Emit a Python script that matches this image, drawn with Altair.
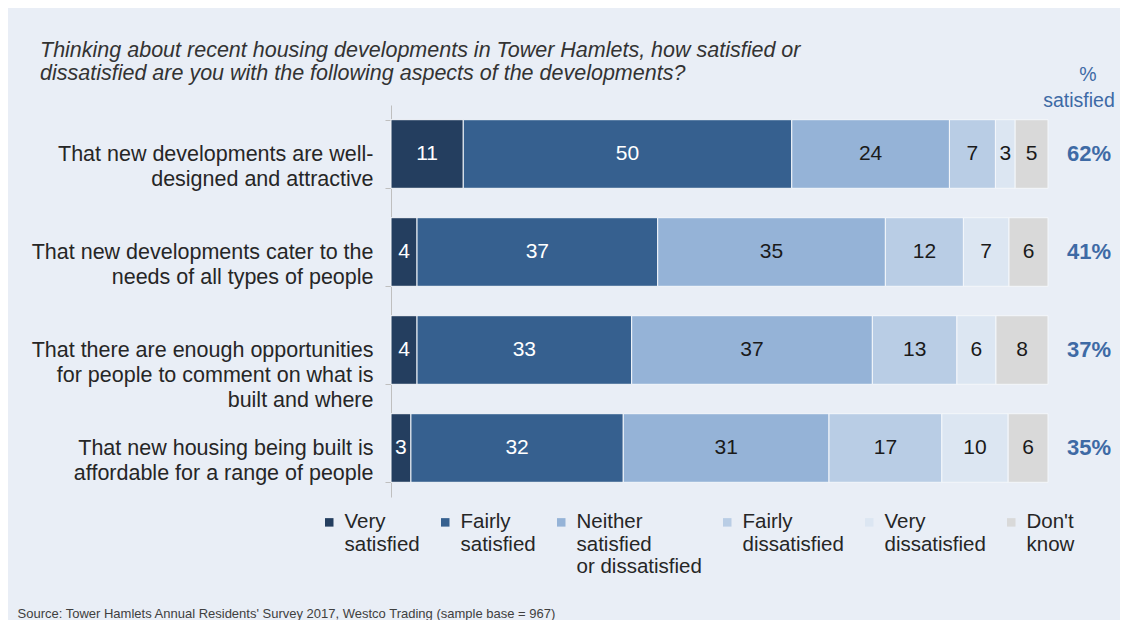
import altair as alt
import pandas as pd

questions = [
    "That new developments are well-|designed and attractive",
    "That new developments cater to the|needs of all types of people",
    "That there are enough opportunities|for people to comment on what is|built and where",
    "That new housing being built is|affordable for a range of people",
]
responses = [
    "Very|satisfied",
    "Fairly|satisfied",
    "Neither|satisfied|or dissatisfied",
    "Fairly|dissatisfied",
    "Very|dissatisfied",
    "Don't|\u00a0know",
]
colors = ["#243e5f", "#36608f", "#95b3d7", "#b9cde5", "#dce6f2", "#d9d9d9"]

very_satisfied = [11, 4, 4, 3]
fairly_satisfied = [50, 37, 33, 32]
neither = [24, 35, 37, 31]
fairly_dissatisfied = [7, 12, 13, 17]
very_dissatisfied = [3, 7, 6, 10]
dont_know = [5, 6, 8, 6]
pct_satisfied = [62, 41, 37, 35]

series = [very_satisfied, fairly_satisfied, neither, fairly_dissatisfied,
          very_dissatisfied, dont_know]

rows = []
for qi, q in enumerate(questions):
    for ri, r in enumerate(responses):
        rows.append({"question": q, "response": r, "ord": ri, "value": series[ri][qi]})
df = pd.DataFrame(rows)
pdf = pd.DataFrame({"question": questions,
                    "pct": [f"{p}%" for p in pct_satisfied]})

FONT = "Liberation Sans"
source = "Source: Tower Hamlets Annual Residents' Survey 2017,  Westco Trading (sample base = 967)"

y_enc = alt.Y(
    "question:N", sort=questions,
    scale=alt.Scale(paddingInner=0.3, paddingOuter=0.15),
    axis=alt.Axis(
        title=None, labelExpr="split(datum.label, '|')", labelFontSize=21.5,
        labelLineHeight=25, labelColor="#262626", labelPadding=12,
        labelLimit=0, tickBand="extent", tickSize=6, tickColor="#bfbfbf",
        domainColor="#bfbfbf", grid=False, labelFont=FONT,
    ),
)

x_axis = alt.Axis(
    labels=False, ticks=False, domain=False, grid=False, title=source,
    titleAnchor="start", titleAlign="left", titleX=-374, titleY=120,
    titleFontSize=13, titleFontWeight="normal", titleColor="#404040",
    titleFont=FONT, titleBaseline="alphabetic",
)

# pad every legend label to three lines so all entries line up on the first line
legend_expr = ("split(datum.label + "
               "(length(split(datum.label, '|')) < 3 ? '|' : ''), '|')")

bars = alt.Chart(df).mark_bar(stroke="#f4f7fb", strokeWidth=1).encode(
    y=y_enc,
    x=alt.X("value:Q", stack="normalize",
            scale=alt.Scale(domain=[0, 1], nice=False), axis=x_axis),
    color=alt.Color(
        "response:N",
        scale=alt.Scale(domain=responses, range=colors),
        legend=alt.Legend(
            title=None, orient="none", legendX=-72, legendY=407,
            direction="horizontal", symbolType="square", symbolSize=72,
            symbolStrokeWidth=0, labelFontSize=20.5,
            labelColor="#262626", labelFont=FONT, columnPadding=15,
            labelOffset=5, labelExpr=legend_expr,
            labelBaseline="middle", labelLimit=0,
        ),
    ),
    order=alt.Order("ord:Q"),
)

labels = alt.Chart(df).transform_stack(
    stack="value", groupby=["question"], as_=["x0", "x1"],
    offset="normalize", sort=[alt.SortField("ord", order="ascending")],
).transform_calculate(
    mid="(datum.x0 + datum.x1) / 2"
).mark_text(fontSize=21, font=FONT).encode(
    y=alt.Y("question:N", sort=questions),
    x=alt.X("mid:Q"),
    text=alt.Text("value:Q"),
    color=alt.condition("datum.ord < 2", alt.value("white"), alt.value("#1a1a1a")),
)

pct = alt.Chart(pdf).mark_text(
    fontSize=22, fontWeight="bold", color="#3e6aa5", font=FONT
).encode(
    y=alt.Y("question:N", sort=questions),
    x=alt.value(698),
    text="pct:N",
)

one = pd.DataFrame({"a": [0]})
header_pct = alt.Chart(one).mark_text(
    text="%", fontSize=19.5, color="#3e6aa5", font=FONT, baseline="middle",
).encode(x=alt.value(697), y=alt.value(-30))
header_sat = alt.Chart(one).mark_text(
    text="satisfied", fontSize=19.5, color="#3e6aa5", font=FONT, baseline="middle",
).encode(x=alt.value(688), y=alt.value(-4))

chart = alt.layer(bars, labels, pct, header_pct, header_sat).properties(
    width=657, height=392,
    autosize=alt.AutoSizeParams(type="none"),
    padding={"left": 383, "top": 97, "right": 72, "bottom": 123},
    background="#e9eef6",
    title=alt.TitleParams(
        text=["Thinking about recent housing developments in Tower Hamlets, how satisfied or",
              "dissatisfied are you with the following aspects of the developments?"],
        anchor="start", frame="group", dx=-351, dy=41, offset=22, fontSize=21.5,
        fontStyle="italic", fontWeight="normal", color="#333333",
        lineHeight=23, font=FONT,
    ),
).configure_view(stroke=None)

chart.save("out.html", embed_options={"renderer": "svg", "actions": False})
